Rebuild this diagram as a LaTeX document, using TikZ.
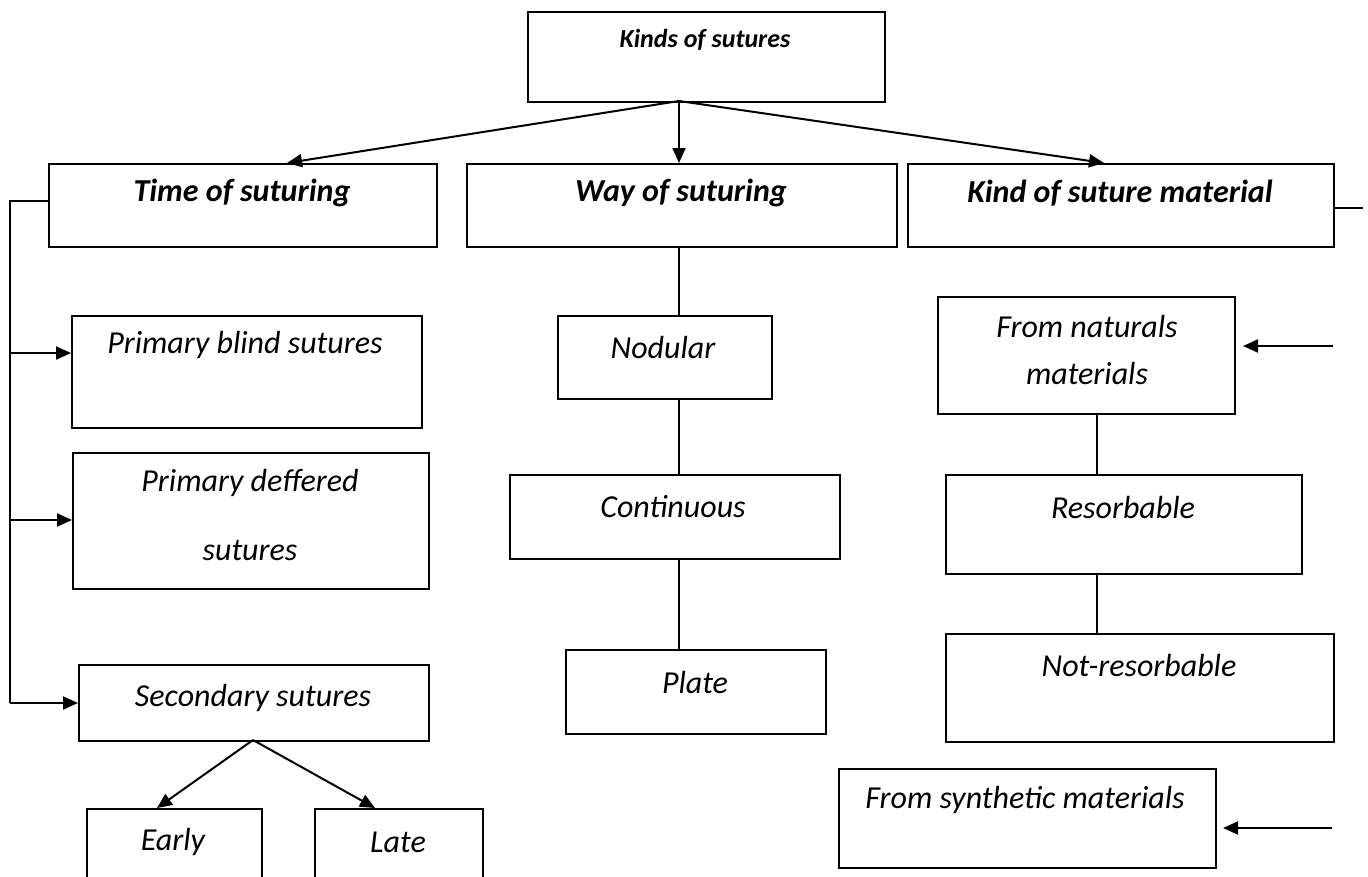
\documentclass[tikz,border=0pt]{standalone}
\usepackage{fontspec}
\setmainfont{Carlito}
\usetikzlibrary{arrows.meta}
\tikzset{
  box/.style={draw, line width=2pt, rectangle, inner sep=0pt, anchor=north west},
  lbl/.style={font=\fontsize{32}{36}\selectfont\itshape, inner sep=0pt, anchor=center},
  head/.style={font=\fontsize{32}{36}\selectfont\bfseries\itshape, inner sep=0pt, anchor=center},
  conn/.style={line width=1.8pt},
  arr/.style={line width=2pt, -{Triangle[length=15pt,width=13pt]}}
}
\begin{document}
\begin{tikzpicture}[x=1pt,y=-1pt]
\useasboundingbox (0,0) rectangle (1368,876);
% boxes
\node[box, minimum width=357, minimum height=90] (top) at (527,11) {};
\node[font=\fontsize{26}{30}\selectfont\bfseries\itshape, inner sep=0pt] (topT) at (705,40) {Kinds of sutures};

\node[box, minimum width=388, minimum height=83] (time) at (48,163) {};
\node[head] (timeT) at (242,193) {Time of suturing};
\node[box, minimum width=430, minimum height=83] (way) at (466,163) {};
\node[head] (wayT) at (681,193) {Way of suturing};
\node[box, minimum width=426, minimum height=83] (kind) at (907,163) {};
\node[head] (kindT) at (1120,193) {Kind of suture material};

\node[box, minimum width=350, minimum height=112] (blind) at (71,315) {};
\node[lbl] (blindT) at (245,345) {Primary blind sutures};
\node[box, minimum width=356, minimum height=136] (deff) at (72,452) {};
\node[lbl] (deffT1) at (250,483) {Primary deffered};
\node[lbl] (deffT2) at (250,550) {sutures};
\node[box, minimum width=350, minimum height=76] (sec) at (78,664) {};
\node[lbl] (secT) at (253,698) {Secondary sutures};
\node[box, minimum width=175, minimum height=100] (early) at (86,808) {};
\node[lbl] (earlyT) at (173,842) {Early};
\node[box, minimum width=168, minimum height=100] (late) at (314,808) {};
\node[lbl] (lateT) at (398,842) {Late};

\node[box, minimum width=214, minimum height=83] (nod) at (557,315) {};
\node[lbl] (nodT) at (663,347) {Nodular};
\node[box, minimum width=330, minimum height=84] (cont) at (509,474) {};
\node[lbl] (contT) at (673,507) {Continuous};
\node[box, minimum width=260, minimum height=84] (plate) at (565,649) {};
\node[lbl] (plateT) at (695,682) {Plate};

\node[box, minimum width=297, minimum height=117] (nat) at (937,296) {};
\node[lbl] (natT1) at (1087,327) {From naturals};
\node[lbl] (natT2) at (1087,373) {materials};
\node[box, minimum width=356, minimum height=99] (res) at (945,474) {};
\node[lbl] (resT) at (1123,507) {Resorbable};
\node[box, minimum width=388, minimum height=108] (nres) at (945,633) {};
\node[lbl] (nresT) at (1139,665) {Not-resorbable};
\node[box, minimum width=377, minimum height=99] (syn) at (838,768) {};
\node[lbl] (synT) at (1025,800) {From synthetic materials};

% coordinates
\coordinate (hub) at (679,101);
\coordinate (timeIn) at (287,163);
\coordinate (wayIn) at (679,163);
\coordinate (kindIn) at (1104,163);
\coordinate (bk0) at (10,201);
\coordinate (bk1) at (10,353);
\coordinate (bk2) at (10,520);
\coordinate (bk3) at (10,703);
\coordinate (secOut) at (253,740);
\coordinate (earlyIn) at (157,808);
\coordinate (lateIn) at (375,808);
\coordinate (kindEnd) at (1363,208);
\coordinate (natSrc) at (1333,346);
\coordinate (natTip) at (1243,346);
\coordinate (synSrc) at (1332,828);
\coordinate (synTip) at (1223,828);

% connectors
\draw[arr] (hub) -- (timeIn);
\draw[arr] (hub) -- (wayIn);
\draw[arr] (hub) -- (kindIn);
\draw[conn] (time.west |- bk0) -- (bk0) -- (bk3);
\draw[arr] (bk1) -- (bk1 -| blind.west);
\draw[arr] (bk2) -- (bk2 -| deff.west);
\draw[arr] (bk3) -- (bk3 -| sec.west);
\draw[arr] (secOut) -- (earlyIn);
\draw[arr] (secOut) -- (lateIn);
\draw[conn] (kind.east |- kindEnd) -- (kindEnd);
\draw[conn] (way.south -| hub) -- (nod.north -| hub);
\draw[conn] (nod.south -| hub) -- (cont.north -| hub);
\draw[conn] (cont.south -| hub) -- (plate.north -| hub);
\coordinate (rx) at (1097,0);
\draw[conn] (nat.south -| rx) -- (res.north -| rx);
\draw[conn] (res.south -| rx) -- (nres.north -| rx);
\draw[arr] (natSrc) -- (natTip);
\draw[arr] (synSrc) -- (synTip);
\end{tikzpicture}
\end{document}
